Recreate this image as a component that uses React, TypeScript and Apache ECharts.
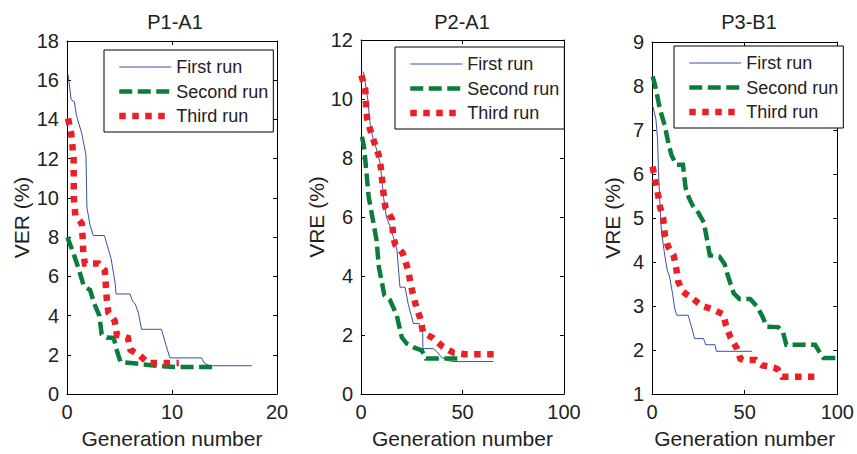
import React, { useEffect, useRef } from "react";
import * as echarts from "echarts";

const FONT = "'Liberation Sans', Arial, Helvetica, sans-serif";
const TXT = "#222";

const runNames = ["First run", "Second run", "Third run"];
const panelTitles = ["P1-A1", "P2-A1", "P3-B1"];
const yNames = ["VER (%)", "VRE (%)", "VRE (%)"];
const xName = "Generation number";

// x ranges / y ranges (ticks)
const xMin = [0, 0, 0];
const xMax = [20, 100, 100];
const xStep = [10, 50, 50];
const yMin = [0, 0, 1];
const yMax = [18, 12, 9];
const yStep = [2, 2, 1];

// Panel 1 (P1-A1)
const p1First = [[0.1,16.3],[0.4,15.0],[0.7,14.9],[0.9,14.2],[1.4,13.3],[1.8,12.2],[1.9,9.5],[2.2,8.6],[2.5,8.08],[3.56,8.08],[4.2,6.9],[4.6,5.6],[4.67,5.1],[6.0,5.1],[6.25,4.72],[6.5,4.6],[6.8,4.13],[7.1,3.3],[9.0,3.3],[9.4,2.54],[9.8,1.84],[12.8,1.84],[13.1,1.56],[13.6,1.44],[17.6,1.44]];
const p1Second = [[0.03,8.0],[0.6,7.2],[1.1,6.4],[1.6,5.5],[2.2,5.3],[2.6,4.6],[3.08,4.0],[3.3,3.05],[3.8,2.88],[4.45,2.86],[4.7,2.3],[5.1,1.63],[6.6,1.55],[8.8,1.42],[10.4,1.38],[14.1,1.38]];
const p1Third = [[0.1,14.05],[0.4,13.3],[0.63,12.0],[0.65,10.0],[0.8,9.1],[1.4,8.7],[1.5,7.9],[1.55,7.2],[1.7,6.66],[3.0,6.66],[3.6,6.3],[3.78,4.9],[3.94,4.15],[4.55,3.72],[4.75,3.02],[5.8,2.86],[6.05,2.25],[6.95,1.96],[7.7,1.58],[10.65,1.58]];

// Panel 2 (P2-A1)
const p2First = [[0,10.94],[1.3,10.9],[3.3,10.0],[4.6,9.1],[5.9,8.67],[7.5,8.33],[9.5,7.8],[11.1,6.67],[12.5,6.0],[14.4,5.67],[16.5,5.2],[17.7,4.89],[19.2,3.62],[21.7,3.62],[23.3,3.03],[25.8,2.39],[28.6,2.39],[30.4,2.1],[30.5,1.54],[35.6,1.54],[37.3,1.44],[39.7,1.24],[43.1,1.13],[45.8,1.1],[65.2,1.1]];
const p2Second = [[0.5,8.72],[1.6,8.33],[2.6,7.56],[3.8,6.67],[6.2,5.78],[7.7,5.2],[8.8,4.3],[10.3,3.78],[11.5,3.35],[14.3,3.18],[17.6,2.67],[20.1,1.92],[22.5,1.71],[26.6,1.56],[29.9,1.48],[32.0,1.2],[49.7,1.2]];
const p2Third = [[0.2,10.8],[2.1,10.33],[2.6,9.67],[3.0,9.33],[4.6,8.94],[7.0,8.44],[8.7,8.1],[9.8,7.67],[11.1,6.78],[12.0,6.33],[15.2,5.94],[15.9,5.3],[17.0,5.05],[20.5,4.78],[23.0,4.25],[25.2,3.5],[27.2,2.95],[29.2,2.56],[30.6,2.08],[35.6,1.89],[40.2,1.61],[45.5,1.4],[51,1.35],[66.5,1.35]];

// Panel 3 (P3-B1)
const p3First = [[0.35,7.56],[2.1,7.25],[3.0,6.8],[3.5,6.06],[4.3,5.3],[5.1,4.68],[6.9,4.15],[8.3,3.8],[9.4,3.68],[11.1,3.28],[12.2,2.95],[13.4,2.79],[19.5,2.79],[21.1,2.56],[23.0,2.26],[27.8,2.26],[29.0,2.12],[34.0,2.12],[34.7,1.97],[53.9,1.97]];
const p3Second = [[0.35,8.22],[1.6,8.03],[4.3,7.47],[6.9,7.1],[8.7,6.73],[10.5,6.43],[13.1,6.21],[16.7,6.21],[18.1,5.69],[19.9,5.46],[22,5.28],[25,5.12],[28.0,4.9],[29.3,4.6],[31.2,4.15],[36.5,4.12],[39.2,3.95],[41,3.68],[44.1,3.29],[47.2,3.16],[53,3.16],[56.5,3.0],[59.5,2.77],[62.0,2.53],[68.1,2.52],[70.7,2.4],[72.5,2.12],[88,2.12],[90,1.98],[92.5,1.82],[100,1.82]];
const p3Third = [[0.35,6.17],[1.6,5.87],[3.4,5.5],[4.3,5.26],[6.0,5.0],[6.9,4.62],[8.7,4.35],[11.6,4.16],[13.1,3.85],[14.2,3.55],[16.4,3.34],[18.4,3.27],[21.5,3.19],[24.6,3.08],[27.3,3.0],[33,2.92],[38.5,2.81],[39.9,2.56],[42.4,2.28],[45.5,2.06],[47.7,1.8],[49.5,1.77],[56,1.77],[59.6,1.65],[65.8,1.6],[67.8,1.56],[70.3,1.39],[87.6,1.39]];

const panelData = [
  [p1First, p1Second, p1Third],
  [p2First, p2Second, p2Third],
  [p3First, p3Second, p3Third],
];

const grids = [
  { left: 67, top: 41, width: 210, height: 357 },
  { left: 361, top: 40, width: 203, height: 360 },
  { left: 652, top: 42, width: 188, height: 358 },
];
const titleX = [175, 462, 749];
const yNameGap = [35, 23, 29];
const legendPos = [
  { left: 104, top: 50 },
  { left: 395, top: 47 },
  { left: 674, top: 46 },
];

const runStyles = [
  { color: "#3651ad", width: 1, type: "solid" as any },
  { color: "#0b7d3a", width: 4.5, type: [13, 5.5] as any },
  { color: "#ec1f26", width: 6.5, type: [6.5, 6.5] as any },
];

export default function App() {
  const ref = useRef<HTMLDivElement>(null);
  useEffect(() => {
    if (!ref.current) return;
    const chart = echarts.init(ref.current, undefined, { renderer: "svg" });
    const axisLine = { show: true, onZero: false, lineStyle: { color: "#000", width: 1 } };
    const axisTick = { show: true, inside: true, length: 4, lineStyle: { color: "#000", width: 1 } };
    const xAxis: any[] = [];
    const yAxis: any[] = [];
    const series: any[] = [];
    const legend: any[] = [];
    const graphic: any[] = [];
    for (let i = 0; i < 3; i++) {
      xAxis.push({
        type: "value", gridIndex: i, position: "bottom",
        min: xMin[i], max: xMax[i], interval: xStep[i],
        axisLine, axisTick, splitLine: { show: false },
        axisLabel: { color: TXT, fontSize: 20, fontFamily: FONT, margin: 8 },
        name: xName, nameLocation: "middle", nameGap: 34,
        nameTextStyle: { color: TXT, fontSize: 21, fontFamily: FONT },
      });
      xAxis.push({
        type: "value", gridIndex: i, position: "top",
        min: xMin[i], max: xMax[i], interval: xStep[i],
        axisLine, axisTick, splitLine: { show: false }, axisLabel: { show: false },
      });
      yAxis.push({
        type: "value", gridIndex: i, position: "left",
        min: yMin[i], max: yMax[i], interval: yStep[i],
        axisLine, axisTick, splitLine: { show: false },
        axisLabel: { color: TXT, fontSize: 20, fontFamily: FONT, margin: 8 },
        name: yNames[i], nameLocation: "middle", nameGap: yNameGap[i],
        nameTextStyle: { color: TXT, fontSize: 21, fontFamily: FONT },
      });
      yAxis.push({
        type: "value", gridIndex: i, position: "right",
        min: yMin[i], max: yMax[i], interval: yStep[i],
        axisLine, axisTick, splitLine: { show: false }, axisLabel: { show: false },
      });
      for (let r = 0; r < 3; r++) {
        const st = runStyles[r];
        series.push({
          type: "line", name: runNames[r],
          xAxisIndex: 2 * i, yAxisIndex: 2 * i,
          data: panelData[i][r], symbol: "none", showSymbol: false,
          color: st.color,
          lineStyle: { color: st.color, width: st.width, type: st.type, cap: "butt", join: "miter" },
          z: 2 + r,
        });
      }
      legend.push({
        left: legendPos[i].left, top: legendPos[i].top, orient: "vertical",
        data: runNames.map((n, r) => ({
          name: n,
          itemStyle: { opacity: 0, borderWidth: 0 },
          lineStyle: { color: runStyles[r].color, width: runStyles[r].width, type: runStyles[r].type, cap: "butt" },
        })),
        itemWidth: 52, itemHeight: 14, itemGap: 4.5,
        padding: [7, 5, 6, 12],
        borderColor: "#000", borderWidth: 1, borderRadius: 0,
        backgroundColor: "#fff", selectedMode: false,
        textStyle: { color: TXT, fontSize: 18, fontFamily: FONT, lineHeight: 20 },
        z: 10,
      });
      graphic.push({
        type: "text", x: titleX[i], y: 22,
        style: { text: panelTitles[i], align: "center", verticalAlign: "middle", fontSize: 20, fontFamily: FONT, fill: TXT },
      });
    }
    chart.setOption({
      animation: false,
      backgroundColor: "#fff",
      grid: grids.map((g) => ({ ...g, containLabel: false })),
      xAxis, yAxis, series, legend, graphic,
    });
    return () => chart.dispose();
  }, []);
  return (
    <div
      ref={ref}
      style={{ position: "absolute", left: 0, top: 0, width: 857, height: 454, background: "#fff" }}
    />
  );
}
